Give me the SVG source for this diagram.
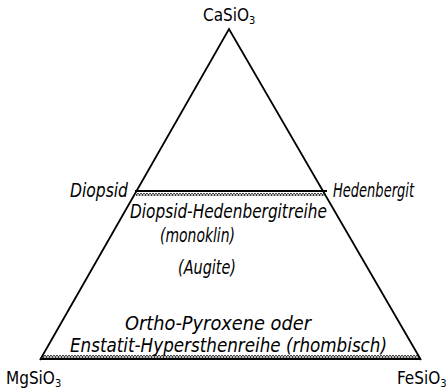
<svg xmlns="http://www.w3.org/2000/svg" width="448" height="390" viewBox="0 0 448 390">
<defs>
<style>
.edge{fill:none;stroke:#000;stroke-width:1.8}
.band{fill:none;stroke:#000;stroke-width:0.8}
.lbl{font-family:"DejaVu Sans Condensed","Liberation Sans",sans-serif;font-style:italic;font-size:19px;fill:#000}
.cmp{font-family:"DejaVu Sans Condensed","Liberation Sans",sans-serif;font-size:17px;fill:#000}
.sub{font-size:11px}
</style>
<pattern id="xx" x="0" y="0" width="6" height="6" patternUnits="userSpaceOnUse">
<path d="M0,1 L3,5 L6,1 M0,5 L3,1 L6,5" class="band"/>
</pattern>
</defs>
<rect width="448" height="390" fill="#fff"/>
<g id="connectors">
<rect x="136" y="190" width="190" height="6" fill="url(#xx)"/>
<line x1="135" y1="191" x2="327" y2="191" class="edge" stroke-width="1.3"/>
<rect x="42" y="353" width="377" height="6" fill="url(#xx)"/>
<line x1="40" y1="359" x2="421" y2="359" class="edge"/>
<path d="M40,360 L229,29 L421,360" class="edge"/>
</g>
<g id="node-ca"><text x="203" y="21" class="cmp">CaSiO<tspan class="sub" dy="3">3</tspan></text></g>
<g id="node-mg"><text x="6" y="384" class="cmp">MgSiO<tspan class="sub" dy="3">3</tspan></text></g>
<g id="node-fe"><text x="397" y="384" class="cmp">FeSiO<tspan class="sub" dy="3">3</tspan></text></g>
<g id="node-diopsid"><text x="70" y="197" class="lbl" textLength="58" lengthAdjust="spacingAndGlyphs">Diopsid</text></g>
<g id="node-hedenbergit"><text x="333" y="197" class="lbl" textLength="81" lengthAdjust="spacingAndGlyphs">Hedenbergit</text></g>
<g id="node-augite">
<text x="130" y="218" class="lbl" textLength="197" lengthAdjust="spacingAndGlyphs">Diopsid-Hedenbergitreihe</text>
<text x="160" y="242" class="lbl" textLength="75" lengthAdjust="spacingAndGlyphs">(monoklin)</text>
<text x="178" y="274" class="lbl" textLength="58" lengthAdjust="spacingAndGlyphs">(Augite)</text>
</g>
<g id="node-ortho">
<text x="125" y="330" class="lbl" textLength="186" lengthAdjust="spacingAndGlyphs">Ortho-Pyroxene  oder</text>
<text x="70" y="352" class="lbl" textLength="317" lengthAdjust="spacingAndGlyphs">Enstatit-Hypersthenreihe (rhombisch)</text>
</g>
</svg>
